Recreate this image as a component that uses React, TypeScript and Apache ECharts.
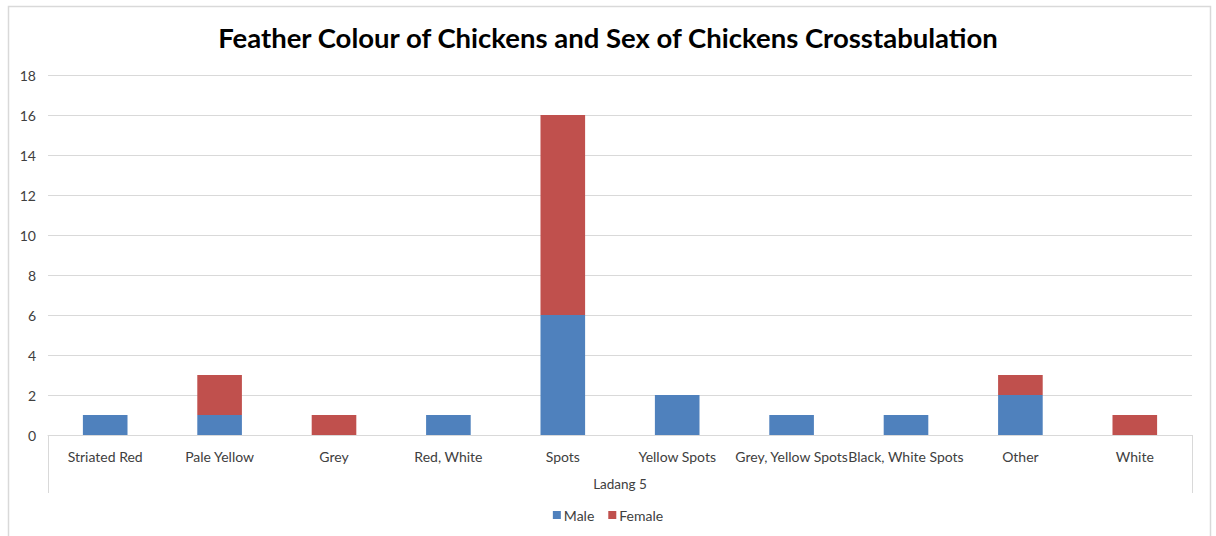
import React, { useEffect, useRef } from "react";
import * as echarts from "echarts";

const categories = [
  "Striated Red",
  "Pale Yellow",
  "Grey",
  "Red, White",
  "Spots",
  "Yellow Spots",
  "Grey, Yellow Spots",
  "Black, White Spots",
  "Other",
  "White",
];
const groupLabel = ["Ladang 5"];
const maleValues = [1, 1, 0, 1, 6, 2, 1, 1, 2, 0];
const femaleValues = [0, 2, 1, 0, 10, 0, 0, 0, 1, 1];
const titleText = "Feather Colour of Chickens and Sex of Chickens Crosstabulation";

const FONT = "Lato, 'Open Sans', sans-serif";

export default function App() {
  const ref = useRef<HTMLDivElement>(null);
  useEffect(() => {
    if (!ref.current) return;
    const chart = echarts.init(ref.current, undefined, { renderer: "svg" });
    const toData = (arr: number[]) => arr.map((v) => (v === 0 ? null : v));
    chart.setOption({
      animation: false,
      backgroundColor: "#ffffff",
      textStyle: { fontFamily: FONT },
      title: {
        text: titleText,
        left: "center",
        top: 18,
        textStyle: { fontFamily: FONT, fontWeight: "bold", fontSize: 27.5, color: "#000000" },
      },
      graphic: [
        {
          type: "rect",
          shape: { x: 8.5, y: 6.5, width: 1202, height: 560 },
          style: { fill: "none", stroke: "#d9d9d9", lineWidth: 1.5 },
          silent: true,
        },
      ],
      legend: {
        bottom: 9,
        left: "center",
        itemWidth: 8,
        itemHeight: 8,
        itemGap: 14,
        icon: "rect",
        textStyle: { fontFamily: FONT, fontSize: 14, color: "#404040", padding: [0, 0, 0, -2] },
        data: ["Male", "Female"],
      },
      grid: { left: 48, right: 24, top: 75, bottom: 101, containLabel: false },
      xAxis: [
        {
          type: "category",
          data: categories,
          axisLine: { show: true, lineStyle: { color: "#d9d9d9", width: 1 } },
          axisTick: { show: false },
          axisLabel: { color: "#404040", fontSize: 14, margin: 14, interval: 0, fontFamily: FONT },
        },
        {
          type: "category",
          data: groupLabel,
          position: "bottom",
          axisLine: { show: false },
          axisTick: { show: true, length: 58, lineStyle: { color: "#d9d9d9", width: 1 } },
          axisLabel: { color: "#404040", fontSize: 13.5, margin: 42, fontFamily: FONT },
        },
      ],
      yAxis: {
        type: "value",
        min: 0,
        max: 18,
        interval: 2,
        axisLine: { show: false },
        axisTick: { show: false },
        axisLabel: { color: "#404040", fontSize: 14, margin: 12, fontFamily: FONT },
        splitLine: { lineStyle: { color: "#d9d9d9", width: 1 } },
      },
      series: [
        {
          name: "Male",
          type: "bar",
          stack: "sex",
          xAxisIndex: 0,
          barWidth: "39%",
          itemStyle: { color: "#4f81bd" },
          data: toData(maleValues),
        },
        {
          name: "Female",
          type: "bar",
          stack: "sex",
          xAxisIndex: 0,
          barWidth: "39%",
          itemStyle: { color: "#c0504d" },
          data: toData(femaleValues),
        },
      ],
    });
    return () => chart.dispose();
  }, []);
  return (
    <div
      ref={ref}
      style={{ position: "fixed", left: 0, top: 0, width: 1216, height: 536 }}
    />
  );
}
